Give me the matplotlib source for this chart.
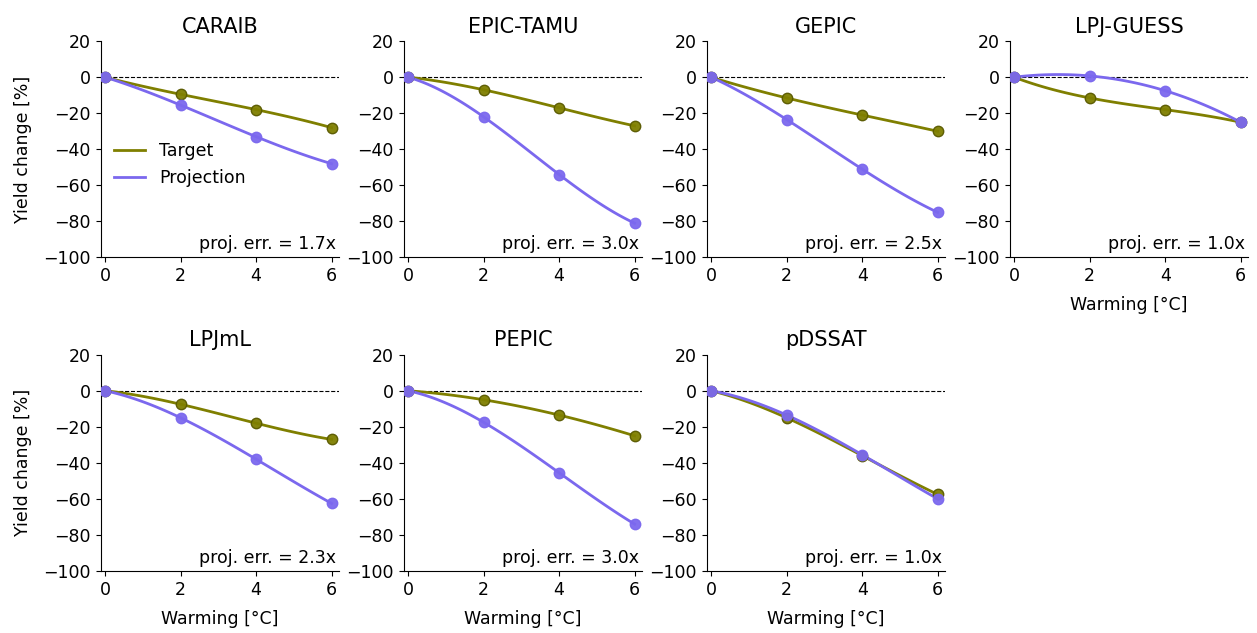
import numpy as np
import matplotlib
matplotlib.use("Agg")
import matplotlib.pyplot as plt

warming = [0, 2, 4, 6]
models = ["CARAIB", "EPIC-TAMU", "GEPIC", "LPJ-GUESS", "LPJmL", "PEPIC", "pDSSAT"]
target = [
    [0, -9.5, -18, -28],
    [0, -7, -17, -27],
    [0, -11.5, -21, -30],
    [0, -11.5, -18, -25],
    [0, -7.5, -18, -27],
    [0, -5, -13.5, -25],
    [0, -15, -36, -57.5],
]
projection = [
    [0, -15.5, -33, -48],
    [0, -22, -54, -81],
    [0, -23.5, -51, -75],
    [0, 0.7, -7.5, -25],
    [0, -15, -38, -62.5],
    [0, -17.5, -45.5, -74],
    [0, -13.5, -35.5, -60],
]
proj_err = ["1.7x", "3.0x", "2.5x", "1.0x", "2.3x", "3.0x", "1.0x"]

c_target = "#7f7f00"
c_proj = "#7b68ee"

fig, axes = plt.subplots(2, 4, figsize=(12.57, 6.33), dpi=100)
fig.subplots_adjust(left=0.08, right=0.993, top=0.935, bottom=0.098, wspace=0.27, hspace=0.45)

xs = np.linspace(0, 6, 100)
for k, ax in enumerate(axes.flat):
    if k >= len(models):
        ax.axis("off")
        continue
    ax.axhline(0, color="black", lw=0.8, ls="--", zorder=1)
    for vals, col, lab, ec in [(target[k], c_target, "Target", "#5a5a00"),
                                (projection[k], c_proj, "Projection", c_proj)]:
        # smooth line through the points
        p = np.polyfit(warming, vals, 3)
        ax.plot(xs, np.polyval(p, xs), color=col, lw=2, label=lab, zorder=2)
        ax.plot(warming, vals, "o", color=col, mec=ec, ms=7.5, alpha=0.95, zorder=3)
    ax.set_title(models[k], fontsize=15)
    ax.set_ylim(-100, 20)
    ax.set_xlim(-0.12, 6.2)
    ax.set_xticks([0, 2, 4, 6])
    ax.set_yticks([20, 0, -20, -40, -60, -80, -100])
    ax.tick_params(labelsize=12.5)
    ax.spines["top"].set_visible(False)
    ax.spines["right"].set_visible(False)
    ax.text(0.985, 0.02, "proj. err. = " + proj_err[k], transform=ax.transAxes,
            ha="right", va="bottom", fontsize=12.5)
    if k % 4 == 0:
        ax.set_ylabel("Yield change [%]", fontsize=12.5, labelpad=8)
    if k >= 3:
        ax.set_xlabel("Warming [°C]", fontsize=12.5, labelpad=8)
    if k == 0:
        ax.legend(loc="center left", bbox_to_anchor=(-0.01, 0.43), frameon=False, fontsize=12.5,
                  handlelength=1.8)

plt.savefig("out.png", dpi=100)
